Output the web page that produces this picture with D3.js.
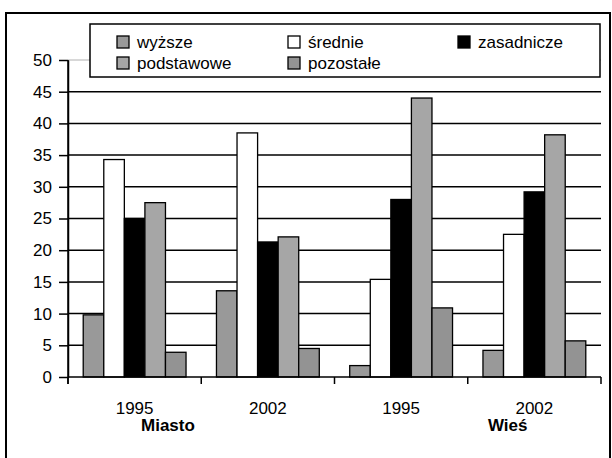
<!DOCTYPE html>
<html lang="pl">
<head>
<meta charset="UTF-8" />
<script src="https://d3js.org/d3.v7.min.js"></script>
<style>
  body { margin: 0; background: #fff; font-family: "Liberation Sans", Arial, sans-serif; }
  svg text { font-family: "Liberation Sans", Arial, sans-serif; }
</style>
</head>
<body>
<div id="chart"></div>
<script>
const categories = ["1995", "2002", "1995", "2002"]
const groupLabels = ["Miasto", "Wieś"]
const seriesNames = ["wyższe", "średnie", "zasadnicze", "podstawowe", "pozostałe"]
const wyzsze = [9.8, 13.6, 1.8, 4.2]
const srednie = [34.3, 38.5, 15.4, 22.5]
const zasadnicze = [25.0, 21.3, 28.0, 29.2]
const podstawowe = [27.5, 22.1, 44.0, 38.2]
const pozostale = [3.9, 4.5, 10.9, 5.7]
const yTicks = [0, 5, 10, 15, 20, 25, 30, 35, 40, 45, 50]

const seriesValues = [wyzsze, srednie, zasadnicze, podstawowe, pozostale]
const colors = ["#999999", "#ffffff", "#000000", "#a6a6a6", "#939393"]

const W = 612, H = 458
const svg = d3.select("#chart").append("svg").attr("width", W).attr("height", H)

// outer frame
svg.append("rect")
  .attr("x", 6).attr("y", 13).attr("width", 604).attr("height", 460)
  .attr("fill", "none").attr("stroke", "#000").attr("stroke-width", 2)

const plotLeft = 68, plotRight = 601, plotTop = 60, plotBottom = 377

const x = d3.scaleBand().domain(d3.range(categories.length)).range([plotLeft, plotRight]).padding(0)
const xs = d3.scaleBand().domain(seriesNames).range([0, x.bandwidth()]).paddingInner(0).paddingOuter(0.74)
const y = d3.scaleLinear().domain([0, 50]).range([plotBottom, plotTop])

// gridlines
svg.append("g")
  .selectAll("line")
  .data(yTicks.filter(d => d > 0))
  .join("line")
  .attr("x1", plotLeft).attr("x2", plotRight)
  .attr("y1", d => y(d)).attr("y2", d => y(d))
  .attr("stroke", d => d === 50 ? "#b0b0b0" : "#000")
  .attr("stroke-width", d => d === 50 ? 1 : 1.5)

// bars
const data = []
categories.forEach((c, i) => {
  seriesNames.forEach((s, j) => data.push({ i, s, j, v: seriesValues[j][i] }))
})
svg.append("g")
  .selectAll("rect")
  .data(data)
  .join("rect")
  .attr("x", d => x(d.i) + xs(d.s))
  .attr("width", xs.bandwidth())
  .attr("y", d => y(d.v))
  .attr("height", d => y(0) - y(d.v))
  .attr("fill", d => colors[d.j])
  .attr("stroke", "#000")
  .attr("stroke-width", 1.3)

// y axis
const yAxis = svg.append("g")
  .attr("transform", `translate(${plotLeft},0)`)
  .call(d3.axisLeft(y).tickValues(yTicks).tickSize(9).tickSizeOuter(0).tickPadding(7))
yAxis.select(".domain").attr("stroke-width", 1.5)
yAxis.selectAll(".tick line").attr("stroke-width", 1.5)
yAxis.selectAll("text").attr("font-size", 17).attr("fill", "#000")
  .attr("font-family", "'Liberation Sans', Arial, sans-serif")

// x axis line and boundary ticks
svg.append("line")
  .attr("x1", plotLeft).attr("x2", plotRight).attr("y1", plotBottom).attr("y2", plotBottom)
  .attr("stroke", "#000").attr("stroke-width", 1.5)
svg.append("line")
  .attr("x1", plotLeft).attr("x2", plotLeft).attr("y1", plotTop).attr("y2", plotBottom + 7)
  .attr("stroke", "#000").attr("stroke-width", 1.5)
const bounds = d3.range(categories.length).map(i => x(i)).concat([x.range()[1]])
svg.append("g")
  .selectAll("line")
  .data(bounds)
  .join("line")
  .attr("x1", d => d).attr("x2", d => d)
  .attr("y1", plotBottom).attr("y2", plotBottom + 7)
  .attr("stroke", "#000").attr("stroke-width", 1.5)

svg.append("g")
  .selectAll("text")
  .data(categories)
  .join("text")
  .attr("x", (d, i) => x(i) + x.bandwidth() / 2)
  .attr("y", 414)
  .attr("text-anchor", "middle")
  .attr("font-size", 17)
  .text(d => d)

svg.append("g")
  .selectAll("text")
  .data(groupLabels)
  .join("text")
  .attr("x", (d, i) => i === 0 ? x(0) + x.bandwidth() * 0.75 : x(3) + x.bandwidth() * 0.3)
  .attr("y", 431)
  .attr("text-anchor", "middle")
  .attr("font-size", 17)
  .attr("font-weight", "bold")
  .text(d => d)

// legend
const legend = svg.append("g")
legend.append("rect")
  .attr("x", 90).attr("y", 24).attr("width", 510).attr("height", 53)
  .attr("fill", "#fff").attr("stroke", "#000").attr("stroke-width", 1.5)
const legendPos = [[117, 42], [288, 42], [458, 42], [117, 63], [288, 63]]
const item = legend.selectAll("g.item")
  .data(seriesNames)
  .join("g")
  .attr("class", "item")
  .attr("transform", (d, i) => `translate(${legendPos[i][0]},${legendPos[i][1]})`)
item.append("rect")
  .attr("x", 0).attr("y", -6).attr("width", 12).attr("height", 12)
  .attr("fill", (d, i) => colors[i]).attr("stroke", "#000").attr("stroke-width", 1.3)
item.append("text")
  .attr("x", 20).attr("y", 6)
  .attr("font-size", 17)
  .text(d => d)
</script>
</body>
</html>
